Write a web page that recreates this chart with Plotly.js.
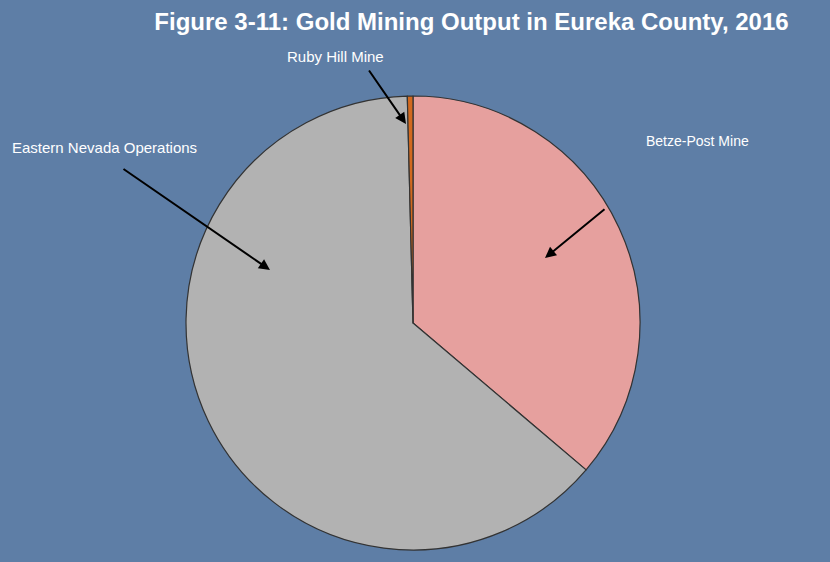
<!DOCTYPE html>
<html>
<head>
<meta charset="utf-8">
<script src="https://cdn.plot.ly/plotly-3.0.1.min.js"></script>
<style>html,body{margin:0;padding:0;background:#5E7EA6;}#chart{width:830px;height:562px;}</style>
</head>
<body>
<div id="chart"></div>
<script>
var mines = ['Betze-Post Mine', 'Eastern Nevada Operations', 'Ruby Hill Mine'];
var shares = [36.2, 63.4, 0.4];
var colors = ['#E6A09E', '#B2B2B2', '#D2691E'];

var W = 830, H = 562;
function px(x) { return x / W; }
function py(y) { return 1 - y / H; }

var labelPos = {
  'Betze-Post Mine': {tx: 697.5, ty: 141, fs: 14, hx: 545, hy: 258, sx: 606, sy: 208},
  'Eastern Nevada Operations': {tx: 104.5, ty: 147, fs: 15, hx: 270, hy: 270, sx: 122, sy: 168},
  'Ruby Hill Mine': {tx: 335.5, ty: 56, fs: 15, hx: 406, hy: 124, sx: 368, sy: 69}
};

var annotations = [];
mines.forEach(function (m) {
  var p = labelPos[m];
  annotations.push({
    xref: 'paper', yref: 'paper', x: px(p.tx), y: py(p.ty),
    text: m, showarrow: false, xanchor: 'center', yanchor: 'middle',
    font: {family: 'Liberation Sans, Arial, sans-serif', size: p.fs, color: '#FFFFFF'}
  });
  annotations.push({
    xref: 'paper', yref: 'paper', x: px(p.hx), y: py(p.hy),
    ax: p.sx - p.hx, ay: p.sy - p.hy,
    text: '', showarrow: true, arrowhead: 2, arrowsize: 1.1, arrowwidth: 2,
    arrowcolor: '#000000', standoff: 0, startstandoff: 0
  });
});

var data = [{
  type: 'pie',
  labels: mines,
  values: shares,
  sort: false,
  direction: 'clockwise',
  rotation: 0,
  textinfo: 'none',
  hoverinfo: 'label+percent',
  marker: {colors: colors, line: {color: '#333333', width: 1.2}},
  domain: {x: [186 / W, 640 / W], y: [12 / H, 466 / H]},
  showlegend: false
}];

var layout = {
  width: W, height: H,
  margin: {l: 0, r: 0, t: 0, b: 0},
  paper_bgcolor: '#5E7EA6',
  plot_bgcolor: '#5E7EA6',
  title: {
    text: '<b>Figure 3-11: Gold Mining Output in Eureka County, 2016</b>',
    x: 471.5 / W, xanchor: 'center', y: 1 - 22 / H, yanchor: 'middle',
    font: {family: 'Liberation Sans, Arial, sans-serif', size: 24, color: '#FFFFFF'}
  },
  annotations: annotations,
  showlegend: false
};

Plotly.newPlot('chart', data, layout, {displayModeBar: false, staticPlot: true});
</script>
</body>
</html>
